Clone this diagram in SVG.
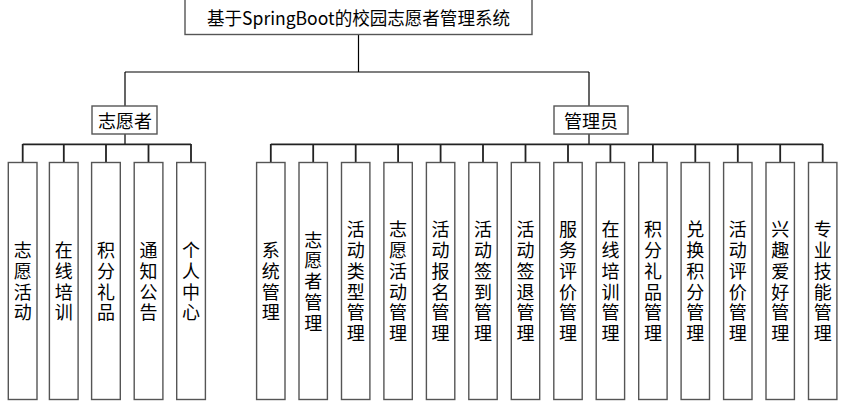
<svg xmlns="http://www.w3.org/2000/svg" width="844" height="405" viewBox="0 0 844 405">
<style>
.box{fill:#fff;stroke:#555;stroke-width:1.4}
.ln{fill:none;stroke:#000;stroke-width:1.2}
.bus{fill:none;stroke:#222;stroke-width:1.8}
.t{font-family:"Noto Sans CJK SC","Noto Sans",sans-serif;font-size:18px;fill:#000;text-anchor:middle;dominant-baseline:central}
</style>
<rect width="844" height="405" fill="#fff"/>
<g id="connectors">
<path class="ln" d="M358.5 34V72M125 72H589M125 72V106M589 72V106"/>
<path class="ln" d="M125 134V144M589 134V144"/>
<path class="bus" d="M22.7 144.3H191M22.7 144V162.5M63.8 144V162.5M106 144V162.5M148.5 144V162.5M191 144V162.5"/>
<path class="bus" d="M270.8 144.3H823M270.8 144V162.5M313.2 144V162.5M355.7 144V162.5M398.1 144V162.5M440.6 144V162.5M483 144V162.5M525.5 144V162.5M568 144V162.5M610.4 144V162.5M652.9 144V162.5M695.3 144V162.5M737.8 144V162.5M780.2 144V162.5M822.7 144V162.5"/>
</g>
<g id="root"><rect class="box" x="185" y="-2" width="347" height="36.5"/><text class="t" x="358.5" y="17" textLength="303" lengthAdjust="spacingAndGlyphs">基于SpringBoot的校园志愿者管理系统</text></g>
<g id="volunteer"><rect class="box" x="92" y="106" width="65" height="28"/><text class="t" x="125" y="120">志愿者</text></g>
<g id="admin"><rect class="box" x="554" y="106" width="74" height="28"/><text class="t" x="591" y="120">管理员</text></g>
<g id="v1"><rect class="box" x="8.3" y="162.5" width="28.7" height="237"/><text class="t"><tspan x="22.7" y="249">志</tspan><tspan x="22.7" y="269.8">愿</tspan><tspan x="22.7" y="290.6">活</tspan><tspan x="22.7" y="311.4">动</tspan></text></g>
<g id="v2"><rect class="box" x="49.4" y="162.5" width="28.7" height="237"/><text class="t"><tspan x="63.8" y="249">在</tspan><tspan x="63.8" y="269.8">线</tspan><tspan x="63.8" y="290.6">培</tspan><tspan x="63.8" y="311.4">训</tspan></text></g>
<g id="v3"><rect class="box" x="91.6" y="162.5" width="28.7" height="237"/><text class="t"><tspan x="106" y="249">积</tspan><tspan x="106" y="269.8">分</tspan><tspan x="106" y="290.6">礼</tspan><tspan x="106" y="311.4">品</tspan></text></g>
<g id="v4"><rect class="box" x="134.2" y="162.5" width="28.7" height="237"/><text class="t"><tspan x="148.5" y="249">通</tspan><tspan x="148.5" y="269.8">知</tspan><tspan x="148.5" y="290.6">公</tspan><tspan x="148.5" y="311.4">告</tspan></text></g>
<g id="v5"><rect class="box" x="176.7" y="162.5" width="28.7" height="237"/><text class="t"><tspan x="191" y="249">个</tspan><tspan x="191" y="269.8">人</tspan><tspan x="191" y="290.6">中</tspan><tspan x="191" y="311.4">心</tspan></text></g>
<g id="a1"><rect class="box" x="256.6" y="162.5" width="28.4" height="237"/><text class="t"><tspan x="270.8" y="249">系</tspan><tspan x="270.8" y="269.8">统</tspan><tspan x="270.8" y="290.6">管</tspan><tspan x="270.8" y="311.4">理</tspan></text></g>
<g id="a2"><rect class="box" x="299" y="162.5" width="28.4" height="237"/><text class="t"><tspan x="313.2" y="238.6">志</tspan><tspan x="313.2" y="259.4">愿</tspan><tspan x="313.2" y="280.2">者</tspan><tspan x="313.2" y="301">管</tspan><tspan x="313.2" y="321.8">理</tspan></text></g>
<g id="a3"><rect class="box" x="341.5" y="162.5" width="28.4" height="237"/><text class="t"><tspan x="355.7" y="228.2">活</tspan><tspan x="355.7" y="249">动</tspan><tspan x="355.7" y="269.8">类</tspan><tspan x="355.7" y="290.6">型</tspan><tspan x="355.7" y="311.4">管</tspan><tspan x="355.7" y="332.2">理</tspan></text></g>
<g id="a4"><rect class="box" x="383.9" y="162.5" width="28.4" height="237"/><text class="t"><tspan x="398.1" y="228.2">志</tspan><tspan x="398.1" y="249">愿</tspan><tspan x="398.1" y="269.8">活</tspan><tspan x="398.1" y="290.6">动</tspan><tspan x="398.1" y="311.4">管</tspan><tspan x="398.1" y="332.2">理</tspan></text></g>
<g id="a5"><rect class="box" x="426.4" y="162.5" width="28.4" height="237"/><text class="t"><tspan x="440.6" y="228.2">活</tspan><tspan x="440.6" y="249">动</tspan><tspan x="440.6" y="269.8">报</tspan><tspan x="440.6" y="290.6">名</tspan><tspan x="440.6" y="311.4">管</tspan><tspan x="440.6" y="332.2">理</tspan></text></g>
<g id="a6"><rect class="box" x="468.8" y="162.5" width="28.4" height="237"/><text class="t"><tspan x="483" y="228.2">活</tspan><tspan x="483" y="249">动</tspan><tspan x="483" y="269.8">签</tspan><tspan x="483" y="290.6">到</tspan><tspan x="483" y="311.4">管</tspan><tspan x="483" y="332.2">理</tspan></text></g>
<g id="a7"><rect class="box" x="511.3" y="162.5" width="28.4" height="237"/><text class="t"><tspan x="525.5" y="228.2">活</tspan><tspan x="525.5" y="249">动</tspan><tspan x="525.5" y="269.8">签</tspan><tspan x="525.5" y="290.6">退</tspan><tspan x="525.5" y="311.4">管</tspan><tspan x="525.5" y="332.2">理</tspan></text></g>
<g id="a8"><rect class="box" x="553.8" y="162.5" width="28.4" height="237"/><text class="t"><tspan x="568" y="228.2">服</tspan><tspan x="568" y="249">务</tspan><tspan x="568" y="269.8">评</tspan><tspan x="568" y="290.6">价</tspan><tspan x="568" y="311.4">管</tspan><tspan x="568" y="332.2">理</tspan></text></g>
<g id="a9"><rect class="box" x="596.2" y="162.5" width="28.4" height="237"/><text class="t"><tspan x="610.4" y="228.2">在</tspan><tspan x="610.4" y="249">线</tspan><tspan x="610.4" y="269.8">培</tspan><tspan x="610.4" y="290.6">训</tspan><tspan x="610.4" y="311.4">管</tspan><tspan x="610.4" y="332.2">理</tspan></text></g>
<g id="a10"><rect class="box" x="638.7" y="162.5" width="28.4" height="237"/><text class="t"><tspan x="652.9" y="228.2">积</tspan><tspan x="652.9" y="249">分</tspan><tspan x="652.9" y="269.8">礼</tspan><tspan x="652.9" y="290.6">品</tspan><tspan x="652.9" y="311.4">管</tspan><tspan x="652.9" y="332.2">理</tspan></text></g>
<g id="a11"><rect class="box" x="681.1" y="162.5" width="28.4" height="237"/><text class="t"><tspan x="695.3" y="228.2">兑</tspan><tspan x="695.3" y="249">换</tspan><tspan x="695.3" y="269.8">积</tspan><tspan x="695.3" y="290.6">分</tspan><tspan x="695.3" y="311.4">管</tspan><tspan x="695.3" y="332.2">理</tspan></text></g>
<g id="a12"><rect class="box" x="723.6" y="162.5" width="28.4" height="237"/><text class="t"><tspan x="737.8" y="228.2">活</tspan><tspan x="737.8" y="249">动</tspan><tspan x="737.8" y="269.8">评</tspan><tspan x="737.8" y="290.6">价</tspan><tspan x="737.8" y="311.4">管</tspan><tspan x="737.8" y="332.2">理</tspan></text></g>
<g id="a13"><rect class="box" x="766" y="162.5" width="28.4" height="237"/><text class="t"><tspan x="780.2" y="228.2">兴</tspan><tspan x="780.2" y="249">趣</tspan><tspan x="780.2" y="269.8">爱</tspan><tspan x="780.2" y="290.6">好</tspan><tspan x="780.2" y="311.4">管</tspan><tspan x="780.2" y="332.2">理</tspan></text></g>
<g id="a14"><rect class="box" x="808.5" y="162.5" width="28.4" height="237"/><text class="t"><tspan x="822.7" y="228.2">专</tspan><tspan x="822.7" y="249">业</tspan><tspan x="822.7" y="269.8">技</tspan><tspan x="822.7" y="290.6">能</tspan><tspan x="822.7" y="311.4">管</tspan><tspan x="822.7" y="332.2">理</tspan></text></g>
</svg>
